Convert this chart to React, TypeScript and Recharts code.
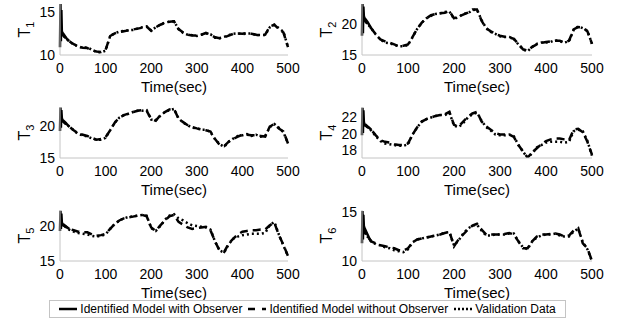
import { Label, Line, LineChart, XAxis, YAxis } from "recharts";

// sample times (sec) for the model / validation curves
const time = [
  0, 10, 20, 30, 40, 50, 60, 70, 80, 90, 100, 110, 120, 130, 140, 150, 160, 170, 180, 190, 200,
  210, 220, 230, 240, 250, 260, 270, 280, 290, 300, 310, 320, 330, 340, 350, 360, 370, 380, 390,
  400, 410, 420, 430, 440, 450, 460, 470, 480, 490, 500,
];
// observer start-up transient
const obsTime = [0, 1, 2, 3, 4, 5, 8, 12, 16, 20];
const xTicks = [0, 100, 200, 300, 400, 500];

const t1Obs = [10.9, 15.9, 11.6, 15.2, 12.8, 12.6, 12.4, 12.1, 11.8, 11.6];
const t1NoObs = [
  12.6, 12.1, 11.6, 11.25, 11.0, 10.85, 10.8, 10.55, 10.4, 10.35, 10.6, 12.2, 12.5, 12.65, 12.75,
  12.85, 12.95, 13.05, 13.15, 13.3, 12.8, 13.2, 13.5, 13.7, 13.85, 13.9, 13.0, 12.6, 12.35, 12.25,
  12.25, 12.35, 12.55, 12.35, 12.05, 11.95, 12.05, 12.25, 12.45, 12.5, 12.45, 12.55, 12.45, 12.35,
  12.25, 12.35, 13.3, 13.5, 13.0, 12.6, 10.9,
];
const t1Valid = [
  12.6, 12.1, 11.6, 11.2, 11.0, 10.8, 10.9, 10.6, 10.35, 10.3, 10.5, 12.2, 12.5, 12.7, 12.8,
  12.85, 12.9, 13.05, 13.2, 13.3, 12.85, 13.2, 13.5, 13.75, 13.85, 13.9, 13.0, 12.55, 12.35, 12.3,
  12.2, 12.35, 12.5, 12.4, 12.0, 11.95, 12.1, 12.3, 12.45, 12.5, 12.4, 12.5, 12.5, 12.3,
  12.3, 12.3, 13.2, 13.5, 13.1, 12.7, 10.9,
];

const t2Obs = [18.1, 23.2, 18.5, 22.8, 21.3, 21.0, 20.7, 20.3, 19.8, 19.3];
const t2NoObs = [
  21.0, 20.2, 19.3, 18.3, 17.5, 17.2, 17.0, 16.7, 16.4, 16.5, 16.7, 17.9, 19.2, 20.2, 20.9, 21.4,
  21.6, 21.7, 21.8, 22.05, 20.9, 21.2, 21.5, 21.8, 22.3, 22.3, 20.5, 19.3, 18.8, 18.4, 18.1, 17.95,
  17.85, 17.6, 16.8, 15.9, 15.7, 16.3, 16.7, 16.95, 17.1, 17.2, 17.3, 17.3, 17.0, 17.3, 19.1, 19.5,
  19.4, 18.8, 16.8,
];
const t2Valid = [
  21.0, 20.2, 19.3, 18.3, 17.5, 17.0, 16.9, 16.6, 16.4, 16.4, 16.6, 17.9, 19.2, 20.2, 20.9, 21.3,
  21.6, 21.7, 21.9, 22.0, 20.8, 21.1, 21.6, 21.7, 22.2, 22.3, 20.6, 19.3, 18.7, 18.4, 18.0, 17.9,
  17.9, 17.6, 16.7, 15.9, 15.6, 16.3, 16.8, 17.0, 17.0, 17.1, 17.4, 17.2, 17.0, 17.2, 19.0, 19.6,
  19.3, 18.9, 16.8,
];

const t3Obs = [19.3, 23.0, 19.8, 22.6, 21.4, 21.1, 20.9, 20.6, 20.3, 20.0];
const t3NoObs = [
  21.1, 20.6, 20.0, 19.4, 18.9, 18.7, 18.5, 18.2, 17.9, 18.0, 18.3, 19.4, 20.6, 21.4, 21.8, 22.05,
  22.3, 22.5, 22.6, 22.5, 21.2, 20.9, 21.8, 22.3, 22.7, 22.8, 21.2, 20.7, 20.2, 19.9, 19.7, 19.55,
  19.4, 19.2, 18.0, 17.1, 16.9, 17.6, 18.05, 18.4, 18.7, 18.7, 18.6, 18.6, 18.5, 18.4, 20.0, 20.4,
  19.7, 19.2, 17.3,
];
const t3Valid = [
  21.1, 20.6, 20.0, 19.4, 18.8, 18.6, 18.4, 18.1, 17.9, 17.9, 18.2, 19.4, 20.6, 21.4, 21.8, 22.0,
  22.3, 22.5, 22.5, 22.6, 21.1, 21.0, 21.7, 22.3, 22.6, 22.8, 21.3, 20.6, 20.2, 19.8, 19.7, 19.5,
  19.5, 19.1, 18.0, 17.2, 16.8, 17.6, 18.1, 18.5, 18.6, 18.8, 18.5, 18.7, 18.4, 18.5, 19.9, 20.4,
  19.8, 19.1, 17.3,
];

const t4Obs = [19.8, 23.2, 20.1, 22.9, 21.5, 21.2, 21.1, 20.9, 20.7, 20.5];
const t4NoObs = [
  21.2, 20.9, 20.5, 19.8, 19.2, 19.0, 18.9, 18.7, 18.6, 18.6, 18.8, 19.9, 20.8, 21.5, 21.8, 22.0,
  22.2, 22.3, 22.4, 22.7, 21.1, 20.9, 21.5, 22.1, 22.5, 22.7, 21.5, 20.9, 20.5, 20.1, 19.9, 19.9,
  19.9, 19.6, 18.6, 17.8, 17.05, 17.7, 18.2, 18.7, 19.1, 19.3, 19.4, 19.4, 19.3, 19.2, 20.5, 20.6,
  20.2, 19.0, 17.4,
];
const t4Valid = [
  21.2, 20.9, 20.4, 19.7, 19.1, 18.8, 18.7, 18.6, 18.5, 18.5, 18.7, 19.9, 20.8, 21.5, 21.8, 22.0,
  22.2, 22.3, 22.3, 22.6, 21.0, 20.8, 21.3, 22.0, 22.4, 22.6, 21.6, 20.8, 20.4, 19.9, 19.8, 19.8,
  19.9, 19.7, 18.6, 17.8, 17.0, 17.6, 18.3, 18.6, 18.9, 19.0, 19.0, 19.0, 18.9, 19.0, 20.3, 20.5,
  20.3, 19.1, 17.3,
];

const t5Obs = [19.3, 22.2, 19.6, 21.8, 20.6, 20.3, 20.2, 20.0, 19.8, 19.6];
const t5NoObs = [
  20.3, 20.0, 19.6, 19.4, 19.2, 19.1, 19.1, 18.8, 18.6, 18.7, 18.9, 19.6, 20.3, 20.8, 21.1, 21.25,
  21.35, 21.5, 21.6, 21.4, 19.8, 19.3, 20.1, 20.8, 21.4, 21.6, 20.6, 20.2, 19.8, 19.6, 19.7, 19.8,
  19.9, 19.4, 17.8, 16.5, 16.3, 17.5, 18.2, 18.8, 19.2, 19.3, 19.4, 19.4, 19.5, 19.5, 20.1, 20.5,
  18.7, 17.3, 15.7,
];
const t5Valid = [
  20.3, 20.0, 19.5, 19.2, 19.0, 18.9, 18.8, 18.6, 18.5, 18.6, 18.8, 19.6, 20.3, 20.8, 21.1, 21.3,
  21.4, 21.5, 21.6, 21.5, 19.7, 19.3, 20.0, 20.9, 21.5, 21.7, 21.1, 20.8, 20.4, 20.1, 20.0, 19.9,
  19.8, 19.5, 17.8, 16.5, 16.2, 17.4, 18.2, 18.5, 18.7, 18.8, 18.9, 18.9, 18.9, 19.0, 20.1, 20.6,
  18.8, 17.2, 15.7,
];

const t6Obs = [11.8, 15.1, 12.2, 14.7, 13.6, 13.4, 13.1, 12.7, 12.3, 12.0];
const t6NoObs = [
  13.4, 12.6, 12.0, 11.8, 11.6, 11.5, 11.4, 11.3, 11.1, 11.05, 11.3, 11.9, 12.2, 12.3, 12.4, 12.5,
  12.6, 12.7, 12.85, 13.0, 11.5, 12.2, 12.7, 13.2, 13.6, 13.8, 13.2, 12.7, 12.7, 12.7, 12.7, 12.75,
  12.85, 12.7, 12.0, 11.3, 11.3, 12.0, 12.5, 12.7, 12.7, 12.75, 12.8, 12.7, 12.5, 12.6, 13.1, 13.35,
  11.8, 11.3, 10.0,
];
const t6Valid = [
  13.4, 12.6, 12.0, 11.7, 11.6, 11.4, 11.3, 11.1, 11.0, 10.9, 11.2, 11.9, 12.2, 12.3, 12.4, 12.5,
  12.6, 12.7, 12.9, 12.95, 11.6, 12.1, 12.8, 13.3, 13.6, 13.7, 13.1, 12.6, 12.6, 12.7, 12.7, 12.7,
  12.8, 12.8, 12.0, 11.4, 11.2, 12.0, 12.4, 12.6, 12.7, 12.7, 12.8, 12.6, 12.5, 12.5, 13.0, 13.3,
  11.9, 11.2, 10.0,
];

const font = "'Liberation Sans', Arial, sans-serif";
const boxColor = "#c4c4c4";
const lineW = 2.5;
const padTop = 10;

type PanelProps = {
  idx: string;
  obs: number[];
  noObs: number[];
  valid: number[];
  domain: [number, number];
  yTicks: number[];
  left: number;
  boxTop: number;
  right: boolean;
};

function toRows(xs: number[], ys: number[]) {
  return xs.map((t, i) => ({ t, v: ys[i] }));
}

function Panel({ idx, obs, noObs, valid, domain, yTicks, left, boxTop, right }: PanelProps) {
  const width = right ? 318 : 300;
  const yWidth = right ? 62 : 60;
  const marginRight = right ? 26 : 12;

  const yLabel = (props: any) => {
    const vb = props.viewBox;
    const cx = vb.x + vb.width - 30;
    const cy = vb.y + vb.height / 2;
    return (
      <text
        x={cx}
        y={cy}
        transform={`rotate(-90 ${cx} ${cy})`}
        textAnchor="middle"
        fontSize={16}
        fontFamily={font}
        fill="#000"
      >
        T
        <tspan fontSize={11} dy={4}>
          {idx}
        </tspan>
      </text>
    );
  };

  const xLabel = (props: any) => {
    const vb = props.viewBox;
    return (
      <text x={vb.x + vb.width / 2} y={vb.y + 37} textAnchor="middle" fontSize={15} fontFamily={font} fill="#000">
        Time(sec)
      </text>
    );
  };

  return (
    <div style={{ position: "absolute", left, top: boxTop - padTop }}>
      <LineChart width={width} height={106} margin={{ top: padTop, right: marginRight, left: 0, bottom: 0 }}>
        <XAxis
          dataKey="t"
          type="number"
          domain={[0, 500]}
          ticks={xTicks}
          interval={0}
          height={45}
          tickLine={false}
          tickSize={0}
          tickMargin={8}
          axisLine={{ stroke: boxColor }}
          tick={{ fontSize: 14, fill: "#000", fontFamily: font }}
        >
          <Label content={xLabel} />
        </XAxis>
        <XAxis xAxisId="top" orientation="top" type="number" domain={[0, 500]} height={0} tick={false} axisLine={{ stroke: boxColor }} />
        <YAxis
          type="number"
          domain={domain}
          ticks={yTicks}
          interval={0}
          width={yWidth}
          allowDataOverflow
          tickLine={false}
          tickSize={0}
          tickMargin={5}
          axisLine={{ stroke: boxColor }}
          tick={{ fontSize: 14, fill: "#000", fontFamily: font }}
        >
          <Label content={yLabel} />
        </YAxis>
        <YAxis yAxisId="r" orientation="right" width={0} tick={false} axisLine={{ stroke: boxColor }} />
        <Line
          data={toRows(time, valid)}
          dataKey="v"
          stroke="#000"
          strokeWidth={lineW}
          strokeDasharray="2 3"
          dot={false}
          isAnimationActive={false}
        />
        <Line
          data={toRows(time, noObs)}
          dataKey="v"
          stroke="#000"
          strokeWidth={lineW}
          strokeDasharray="8 5"
          dot={false}
          isAnimationActive={false}
        />
        <Line
          data={toRows(obsTime, obs)}
          dataKey="v"
          stroke="#000"
          strokeWidth={lineW}
          dot={false}
          isAnimationActive={false}
        />
      </LineChart>
    </div>
  );
}

function Sample({ dash }: { dash?: string }) {
  return (
    <svg width={18} height={8} style={{ margin: "0 3px 0 0" }}>
      <line x1={0} y1={4} x2={18} y2={4} stroke="#000" strokeWidth={2.5} strokeDasharray={dash} />
    </svg>
  );
}

export default function App() {
  return (
    <div style={{ position: "absolute", left: 0, top: 0, width: 618, height: 322, background: "#fff", fontFamily: font, overflow: "hidden" }}>
      <Panel idx="1" obs={t1Obs} noObs={t1NoObs} valid={t1Valid} domain={[10, 15.9]} yTicks={[10, 15]} left={0} boxTop={4} right={false} />
      <Panel idx="2" obs={t2Obs} noObs={t2NoObs} valid={t2Valid} domain={[15, 23.2]} yTicks={[15, 20]} left={300} boxTop={4} right />
      <Panel idx="3" obs={t3Obs} noObs={t3NoObs} valid={t3Valid} domain={[15, 23.1]} yTicks={[15, 20]} left={0} boxTop={107} right={false} />
      <Panel idx="4" obs={t4Obs} noObs={t4NoObs} valid={t4Valid} domain={[17, 23.3]} yTicks={[18, 20, 22]} left={300} boxTop={107} right />
      <Panel idx="5" obs={t5Obs} noObs={t5NoObs} valid={t5Valid} domain={[15, 22.3]} yTicks={[15, 20]} left={0} boxTop={210} right={false} />
      <Panel idx="6" obs={t6Obs} noObs={t6NoObs} valid={t6Valid} domain={[10, 15.2]} yTicks={[10, 15]} left={300} boxTop={210} right />
      <div
        style={{
          position: "absolute",
          left: 49,
          top: 300,
          width: 517,
          height: 18,
          boxSizing: "border-box",
          border: `1px solid ${boxColor}`,
          background: "#fff",
          display: "flex",
          alignItems: "center",
          justifyContent: "center",
          fontSize: 12,
          whiteSpace: "nowrap",
        }}
      >
        <Sample />
        <span style={{ marginRight: 6 }}>Identified Model with Observer</span>
        <Sample dash="7 7" />
        <span style={{ marginRight: 6 }}>Identified Model without Observer</span>
        <Sample dash="2 2" />
        <span>Validation Data</span>
      </div>
    </div>
  );
}
